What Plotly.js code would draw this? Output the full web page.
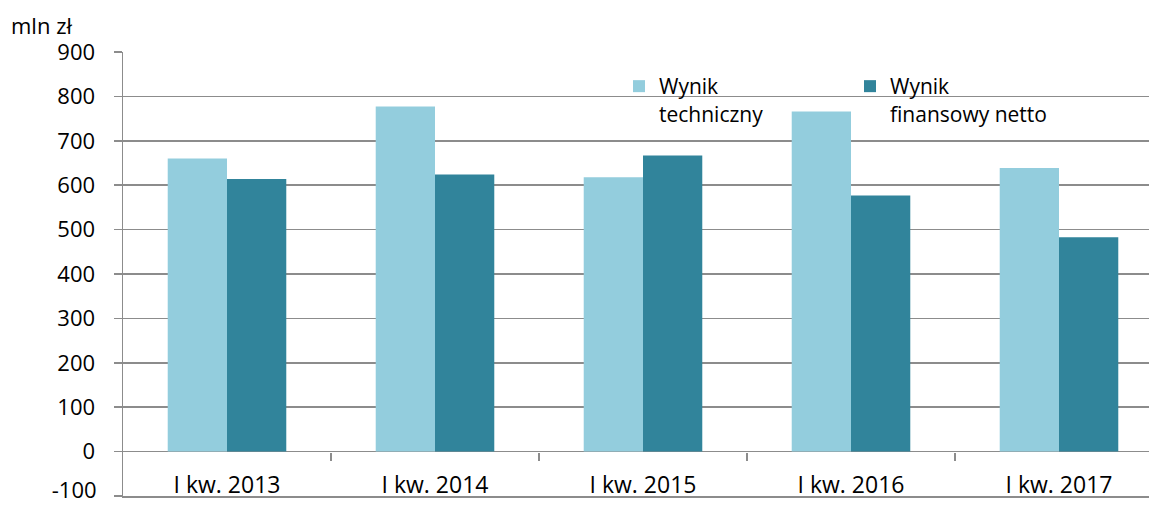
<!DOCTYPE html>
<html>
<head>
<meta charset="utf-8">
<script src="https://cdn.plot.ly/plotly-3.0.1.min.js"></script>
<style>html,body{margin:0;padding:0;background:#fff;}#chart{width:1149px;height:506px;}</style>
</head>
<body>
<div id="chart"></div>
<script>
var categories = ["I kw. 2013", "I kw. 2014", "I kw. 2015", "I kw. 2016", "I kw. 2017"];
var wynikTechniczny = [660, 777, 618, 766, 639];
var wynikFinansowyNetto = [614, 624, 667, 577, 483];
var seriesNames = ["Wynik<br>techniczny", "Wynik<br>finansowy netto"];
var yTickVals = [-100, 0, 100, 200, 300, 400, 500, 600, 700, 800, 900];
var yTickText = ["-100", "0", "100", "200", "300", "400", "500", "600", "700", "800", "900"];
var unitLabel = "mln zł";

var idx = categories.map(function (c, i) { return i; });
var boundaries = categories.slice(1).map(function (c, i) { return i + 0.5; });
var gridColor = "#8c8c8c";
var font = "Open Sans, Noto Sans, sans-serif";
var xRange = [-0.5, -0.5 + 1026 / 208];
var yRange = [yTickVals[0], yTickVals[yTickVals.length - 1]];
// main axis shows all labels except the lowest, which is drawn by a helper axis nudged up to stay inside the picture
var mainTickText = yTickText.map(function (t, i) { return i === 0 ? "" : t; });

var traces = [
  { type: "bar", x: idx, y: wynikTechniczny, name: seriesNames[0],
    marker: { color: "#93cddd", line: { width: 0 } }, hoverinfo: "y" },
  { type: "bar", x: idx, y: wynikFinansowyNetto, name: seriesNames[1],
    marker: { color: "#31849b", line: { width: 0 } }, hoverinfo: "y" },
  { type: "scatter", x: [0], y: [null], xaxis: "x2", yaxis: "y",
    mode: "markers", showlegend: false, hoverinfo: "skip" },
  { type: "scatter", x: [0], y: [null], xaxis: "x3", yaxis: "y2",
    mode: "markers", showlegend: false, hoverinfo: "skip" }
];

var layout = {
  width: 1149, height: 506,
  margin: { l: 123, r: 0, t: 52, b: 10, pad: 0 },
  paper_bgcolor: "#fff", plot_bgcolor: "#fff",
  font: { family: font, color: "#000", size: 22 },
  barmode: "group", bargap: 0.43, bargroupgap: 0,
  showlegend: true,
  legend: {
    orientation: "h", xref: "paper", yref: "paper",
    x: (619 - 123) / 1026, y: 1 - (66 - 52) / 444, xanchor: "left", yanchor: "top",
    font: { family: font, size: 21, color: "#000" },
    valign: "top", entrywidth: 186, entrywidthmode: "pixels",
    bgcolor: "rgba(0,0,0,0)", borderwidth: 0, traceorder: "normal"
  },
  xaxis: {
    type: "linear", range: xRange, fixedrange: true,
    ticks: "", showticklabels: false, showgrid: false, zeroline: false,
    showline: true, linecolor: gridColor, linewidth: 1.5
  },
  xaxis2: {
    type: "linear", range: xRange, overlaying: "x", anchor: "free", position: 0.1,
    tickmode: "array", tickvals: boundaries, ticks: "outside", ticklen: 8,
    tickwidth: 1.5, tickcolor: gridColor,
    showticklabels: false, showgrid: false, zeroline: false, showline: false
  },
  xaxis3: {
    type: "linear", range: xRange, overlaying: "x", anchor: "free", position: (496 - 469) / 444,
    tickmode: "array", tickvals: idx, ticktext: categories,
    ticks: "", showgrid: false, zeroline: false, showline: false,
    tickfont: { family: font, size: 23, color: "#000" }
  },
  yaxis: {
    range: yRange, fixedrange: true,
    tickmode: "array", tickvals: yTickVals, ticktext: mainTickText,
    showgrid: true, gridcolor: gridColor, gridwidth: 1.5,
    zeroline: true, zerolinecolor: gridColor, zerolinewidth: 1.5,
    showline: true, linecolor: gridColor, linewidth: 1.5,
    ticks: "outside", ticklen: 8, tickwidth: 1.5, tickcolor: gridColor,
    ticklabelstandoff: 14,
    tickfont: { family: font, size: 22, color: "#000" }
  },
  yaxis2: {
    range: yRange, overlaying: "y", anchor: "free", position: 0, side: "left",
    tickmode: "array", tickvals: yTickVals.slice(0, 1), ticktext: yTickText.slice(0, 1),
    ticks: "outside", ticklen: 8, tickcolor: "rgba(0,0,0,0)",
    ticklabelstandoff: 14, ticklabelshift: -6, ticklabeloverflow: "allow",
    showgrid: false, zeroline: false, showline: false,
    tickfont: { family: font, size: 22, color: "#000" }
  },
  annotations: [
    { text: unitLabel, xref: "paper", yref: "paper", x: -123 / 1026, y: 1 + 10 / 444,
      xanchor: "left", yanchor: "bottom", showarrow: false, xshift: 9,
      font: { family: font, size: 22, color: "#000" } }
  ]
};

Plotly.newPlot("chart", traces, layout, { displayModeBar: false, staticPlot: true });
</script>
</body>
</html>
